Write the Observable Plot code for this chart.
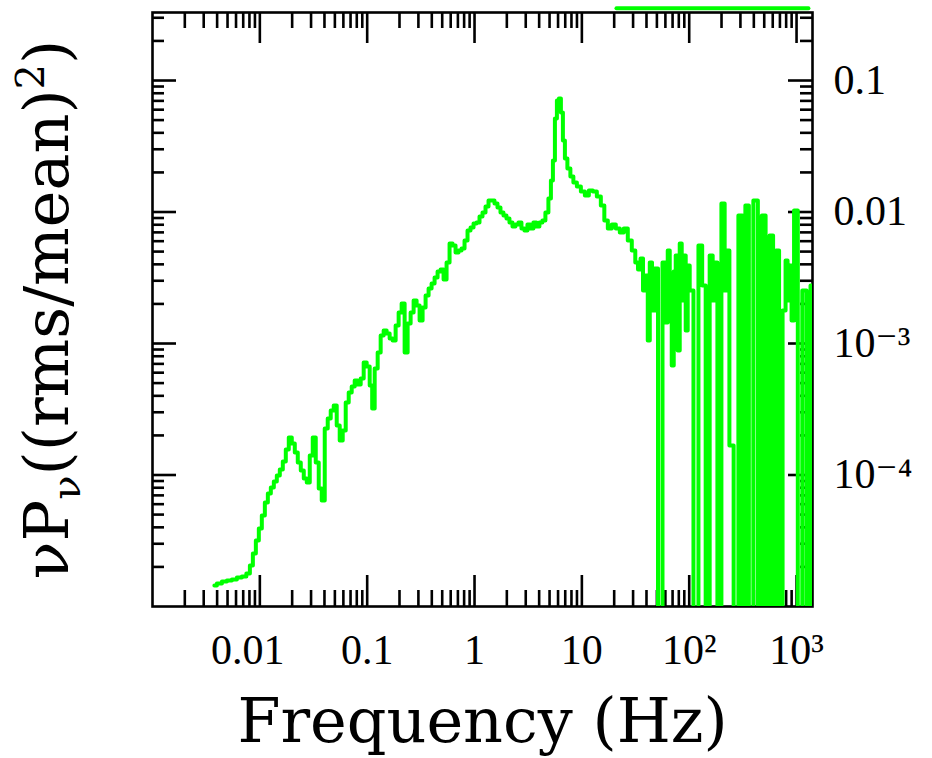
<!DOCTYPE html>
<html><head><meta charset="utf-8">
<script src="https://cdn.jsdelivr.net/npm/d3@7"></script>
<script src="https://cdn.jsdelivr.net/npm/@observablehq/plot@0.6"></script>
<style>
html,body{margin:0;padding:0;background:#fff;}
#chart svg{display:block;}
</style></head><body><div id="chart"></div>
<script>
// Frequency bins (Hz)
const frequency = [
  0.00377, 0.0042, 0.00468, 0.0052, 0.00579, 0.00645, 0.00717, 0.00782, 0.00834, 0.00889,
  0.00948, 0.0101, 0.01078, 0.0115, 0.01226, 0.01307, 0.01394, 0.01486, 0.01585, 0.0169,
  0.01802, 0.01921, 0.0205, 0.02185, 0.0233, 0.02485, 0.0265, 0.02826, 0.03013, 0.03213,
  0.03426, 0.03653, 0.03896, 0.04155, 0.0443, 0.04724, 0.05038, 0.05372, 0.05728, 0.0611,
  0.06516, 0.06947, 0.07409, 0.07901, 0.08425, 0.08984, 0.0958, 0.1022, 0.109, 0.1137,
  0.1213, 0.1293, 0.1379, 0.147, 0.1568, 0.1672, 0.1783, 0.1901, 0.2028, 0.2162,
  0.2306, 0.2459, 0.2622, 0.2796, 0.2981, 0.3179, 0.339, 0.3615, 0.3855, 0.4111,
  0.4384, 0.4675, 0.4985, 0.5316, 0.5669, 0.6045, 0.6446, 0.6874, 0.733, 0.7817,
  0.8336, 0.8889, 0.9478, 1.011, 1.078, 1.149, 1.226, 1.307, 1.394, 1.486,
  1.585, 1.69, 1.802, 1.921, 2.049, 2.185, 2.33, 2.485, 2.65, 2.826,
  3.013, 3.213, 3.426, 3.653, 3.896, 4.155, 4.43, 4.724, 5.038, 5.26,
  5.49, 5.73, 5.98, 6.243, 6.516, 6.802, 7.1, 7.57, 8.072, 8.608,
  9.378, 10.22, 11.13, 12.13, 13.21, 14.39, 15.68, 16.72, 18.22, 19.85,
  21.62, 23.56, 25.66, 27.96, 30.46,
  32.48, 34.26, 36.15, 38.14, 40.24, 42.0, 43.85, 46.27, 48.8, 53.74,
  59.17, 61.77, 64.47, 67.29, 70.23, 73.31, 76.52, 79.86, 83.36, 87.0,
  90.8, 94.78, 98.9, 103.3, 116.2, 127.9, 136.4, 148.6, 161.9, 169.0,
  176.4, 190.1, 209.4, 218.6, 228.1, 245.9, 273.6, 301.4, 324.8, 342.6,
  377.3, 415.6, 457.7, 493.2, 537.4, 585.5, 624.3, 665.8, 710, 773.6,
  807.2, 842.7, 879.5, 918.1, 978.8, 1078, 1187, 1293, 1408
];
// nu*P_nu ((rms/mean)^2); 0 = zero / negative power
const power = [
  1.444e-5, 1.496e-5, 1.549e-5, 1.576e-5, 1.604e-5, 1.661e-5, 1.69e-5, 1.781e-5, 2.05e-5, 2.529e-5,
  3.176e-5, 3.918e-5, 4.921e-5, 6.18e-5, 7.23e-5, 8.03e-5, 8.92e-5, 9.91e-5, 1.101e-4, 1.267e-4,
  1.563e-4, 1.928e-4, 1.736e-4, 1.483e-4, 1.245e-4, 1.082e-4, 9.41e-5, 8.77e-5, 1.407e-4, 1.928e-4,
  1.245e-4, 7.89e-5, 6.4e-5, 2.258e-4, 2.689e-4, 3.094e-4, 3.377e-4, 2.378e-4, 1.829e-4, 2.18e-4,
  3.558e-4, 4.239e-4, 4.71e-4, 5.23e-4, 4.88e-4, 5.42e-4, 7.17e-4, 6.68e-4, 4.79e-4, 3.204e-4,
  6.45e-4, 8.54e-4, 1.15e-3, 1.256e-3, 1.191e-3, 1.091e-3, 1.054e-3, 1.371e-3, 1.72e-3, 2.014e-3,
  8.54e-4, 1.419e-3, 1.72e-3, 2.123e-3, 1.945e-3, 1.496e-3, 1.878e-3, 2.317e-3, 2.619e-3, 2.859e-3,
  3.176e-3, 3.527e-3, 3.653e-3, 3.067e-3, 4.13e-3, 5.76e-3, 5.56e-3, 4.92e-3, 5.1e-3, 5.28e-3,
  6.07e-3, 7.23e-3, 7.62e-3, 8.18e-3, 8.32e-3, 9.24e-3, 9.91e-3, 0.01101, 0.01223, 0.01223,
  0.0116, 0.01082, 9.91e-3, 9.41e-3, 8.92e-3, 8.32e-3, 7.76e-3, 8.04e-3, 8.32e-3, 7.49e-3,
  7.23e-3, 8.04e-3, 7.49e-3, 8.32e-3, 7.76e-3, 8.32e-3, 8.62e-3, 9.91e-3, 0.01267, 0.01736,
  0.02464, 0.05141, 0.0704, 0.073, 0.05709, 0.03498, 0.02551, 0.02141, 0.01862, 0.01676,
  0.01563, 0.01432, 0.01335, 0.01457, 0.01432, 0.01312, 0.0112, 8.62e-3, 7.49e-3, 8.04e-3,
  7.49e-3, 6.98e-3, 7.49e-3, 6.07e-3, 5.1e-3,
  4.13e-3, 3.653e-3, 4.43e-3, 2.529e-3, 3.29e-3, 1.054e-3, 4.13e-3, 1.782e-3, 3.717e-3, 0,
  4.13e-3, 1.444e-3, 5.1e-3, 2.123e-3, 6.8e-4, 3.527e-3, 4.67e-3, 8.84e-4, 5.76e-3, 2.123e-3,
  4.67e-3, 1.256e-3, 3.917e-3, 2.529e-3, 0, 5.56e-3, 2.761e-3, 0, 4.67e-3, 2.123e-3,
  4.13e-3, 0, 0.0116, 2.529e-3, 5.1e-3, 1.676e-4, 0, 9.41e-3, 0, 0.0112,
  0, 0.01223, 0, 9.41e-3, 0, 6.63e-3, 0, 5.1e-3, 0, 1.782e-3,
  4.28e-3, 2.123e-3, 3.917e-3, 1.496e-3, 0.01026, 0, 2.529e-3, 0, 2.761e-3
];
// Strip of green at the very top edge (from the panel above)
const stripFrequency = [21, 1290];
const stripPower = [0.355, 0.355];

const xDomain = [0.001, 1408];
const yDomain = [1e-5, 0.329];
const xMajorTicks = [0.01, 0.1, 1, 10, 100, 1000];
const xTickLabels = ["0.01", "0.1", "1", "10", "10²", "10³"];
const yMajorTicks = [0.1, 0.01, 0.001, 0.0001];
const yTickLabels = ["0.1", "0.01", "10⁻³", "10⁻⁴"];
const xTitle = "Frequency (Hz)";
const yTitle = "νPν((rms/mean)2)";

const minorX = [];
for (let e = -3; e <= 3; e++) for (let m = 2; m <= 9; m++) { const v = m * 10 ** e; if (v > xDomain[0] && v < xDomain[1]) minorX.push(v); }
const minorY = [];
for (let e = -5; e <= -1; e++) for (let m = 2; m <= 9; m++) { const v = m * 10 ** e; if (v > yDomain[0] && v < yDomain[1]) minorY.push(v); }

const W = 932, H = 758, mL = 152, mR = 120, mT = 12, mB = 152;
const pw = W - mL - mR, ph = H - mT - mB;
const data = frequency.map((f, i) => ({f, p: power[i]}));
const strip = stripFrequency.map((f, i) => ({f, p: stripPower[i]}));
const font = "'DejaVu Serif', 'Liberation Serif', serif";
const tickFont = "'Liberation Serif', 'DejaVu Serif', serif";
const tk = {stroke: "black", strokeWidth: 2.6};
const green = "#00ff00";

const svg = Plot.plot({
  width: W, height: H,
  marginLeft: mL, marginRight: mR, marginTop: mT, marginBottom: mB,
  x: {type: "log", domain: xDomain, axis: null},
  y: {type: "log", domain: yDomain, axis: null},
  style: {fontFamily: font, background: "white", color: "black"},
  marks: [
    Plot.frame({stroke: "black", strokeWidth: 2.6}),
    Plot.tickX(xMajorTicks, {x: d => d, insetTop: ph - 31, ...tk}),
    Plot.tickX(xMajorTicks, {x: d => d, insetBottom: ph - 31, ...tk}),
    Plot.tickX(minorX, {x: d => d, insetTop: ph - 16, ...tk}),
    Plot.tickX(minorX, {x: d => d, insetBottom: ph - 16, ...tk}),
    Plot.tickY(yMajorTicks, {y: d => d, insetRight: pw - 24, ...tk}),
    Plot.tickY(yMajorTicks, {y: d => d, insetLeft: pw - 24, ...tk}),
    Plot.tickY(minorY, {y: d => d, insetRight: pw - 12, ...tk}),
    Plot.tickY(minorY, {y: d => d, insetLeft: pw - 12, ...tk}),
    // first x label sits a little left of its tick in the reference
    Plot.text(xMajorTicks.slice(0, 1), {x: d => d, frameAnchor: "bottom", dy: 44, dx: -12,
      text: (d, i) => xTickLabels[i], fontSize: 42, fontFamily: tickFont, lineAnchor: "middle", fill: "black"}),
    Plot.text(xMajorTicks.slice(1), {x: d => d, frameAnchor: "bottom", dy: 44,
      text: (d, i) => xTickLabels[i + 1], fontSize: 42, fontFamily: tickFont, lineAnchor: "middle", fill: "black"}),
    Plot.text(yMajorTicks, {y: d => d, frameAnchor: "right", dx: 21, text: (d, i) => yTickLabels[i],
      fontSize: 42, fontFamily: tickFont, textAnchor: "start", lineAnchor: "middle", fill: "black"}),
    Plot.text([xTitle], {frameAnchor: "bottom", dy: 116, text: d => d, fontSize: 62, fontFamily: font,
      textAnchor: "middle", lineAnchor: "middle", fill: "black"}),
    Plot.text([yTitle], {frameAnchor: "left", dx: -104, rotate: -90, text: d => d, fontSize: 62,
      fontFamily: font, textAnchor: "middle", lineAnchor: "middle", fill: "black"}),
    Plot.line(data, {x: "f", y: d => (d.p > 0 ? d.p : 1e-9), curve: "step", stroke: green,
      strokeWidth: 4, clip: true}),
    Plot.line(strip, {x: "f", y: "p", stroke: green, strokeWidth: 4})
  ]
});
document.getElementById("chart").appendChild(svg);

// rich formatting of the y title: subscript nu and superscript 2
const yt = Array.from(svg.querySelectorAll("text")).find(t => t.textContent === yTitle);
if (yt) {
  const ns = "http://www.w3.org/2000/svg";
  const segs = [
    {t: "νP"}, {t: "ν", dy: 12, fs: 40}, {t: "((rms/mean)", dy: -12},
    {t: "2", dy: -24, fs: 40}, {t: ")", dy: 24}
  ];
  while (yt.firstChild) yt.removeChild(yt.firstChild);
  for (const s of segs) {
    const ts = document.createElementNS(ns, "tspan");
    if (s.dy) ts.setAttribute("dy", s.dy);
    if (s.fs) ts.setAttribute("font-size", s.fs);
    ts.textContent = s.t;
    yt.appendChild(ts);
  }
}
</script></body></html>
